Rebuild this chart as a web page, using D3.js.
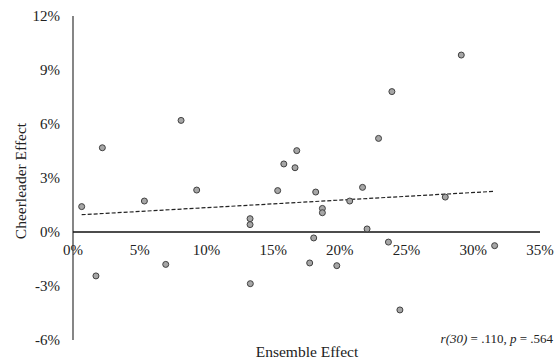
<!DOCTYPE html>
<html>
<head>
<meta charset="utf-8">
<script src="https://cdn.jsdelivr.net/npm/d3@7"></script>
<style>
  body { margin: 0; background: #fff; }
  svg { font-family: "Liberation Serif", "Times New Roman", serif; }
</style>
</head>
<body>
<div class="chart"></div>
<script>
// ensemble effect (%) and cheerleader effect (%)
const ensemble = [0.65, 1.72, 2.2, 5.35, 6.95, 8.1, 9.27, 13.27, 13.27, 13.29,
    15.34, 15.8, 16.64, 16.77, 17.74, 18.04, 18.19, 18.69, 18.69, 19.77,
    20.74, 21.7, 22.04, 22.9, 23.64, 23.9, 24.5, 27.9, 29.1, 31.6];
const cheerleader = [1.41, -2.44, 4.68, 1.72, -1.8, 6.2, 2.33, 0.74, 0.41, -2.87,
    2.3, 3.78, 3.57, 4.52, -1.72, -0.33, 2.22, 1.31, 1.07, -1.87,
    1.72, 2.48, 0.17, 5.2, -0.56, 7.8, -4.33, 1.94, 9.83, -0.76];

// linear trend line ends
const trendX = [0.65, 31.6];
const trendY = [0.96, 2.26];

const xTicks = [0, 5, 10, 15, 20, 25, 30, 35];
const yTicks = [-6, -3, 0, 3, 6, 9, 12];

const w = 556;
const h = 360;

const svg = d3
    .select(".chart")
    .append("svg")
    .attr("width", w)
    .attr("height", h);

const xScale = d3.scaleLinear().domain([0, 35]).range([73, 540]);
const yScale = d3.scaleLinear().domain([-6, 12]).range([340, 16]);

// axis lines
svg.append("line")
    .attr("x1", xScale(0))
    .attr("x2", xScale(0))
    .attr("y1", yScale(12))
    .attr("y2", yScale(-6))
    .attr("stroke", "#444")
    .attr("stroke-width", 1.3);

svg.append("line")
    .attr("x1", xScale(0))
    .attr("x2", xScale(35))
    .attr("y1", yScale(0))
    .attr("y2", yScale(0))
    .attr("stroke", "#111")
    .attr("stroke-width", 1.3);

// tick labels
svg.append("g")
    .selectAll("text")
    .data(yTicks)
    .join("text")
    .attr("x", 60)
    .attr("y", (d) => yScale(d) + 5)
    .attr("text-anchor", "end")
    .attr("font-size", 15)
    .attr("fill", "#222")
    .text((d) => d + "%");

svg.append("g")
    .selectAll("text")
    .data(xTicks)
    .join("text")
    .attr("x", (d) => xScale(d))
    .attr("y", 255)
    .attr("text-anchor", "middle")
    .attr("font-size", 15)
    .attr("fill", "#222")
    .text((d) => d + "%");

// trend line
svg.append("line")
    .attr("x1", xScale(trendX[0]))
    .attr("x2", xScale(trendX[1]))
    .attr("y1", yScale(trendY[0]))
    .attr("y2", yScale(trendY[1]))
    .attr("stroke", "#222")
    .attr("stroke-width", 1.2)
    .attr("stroke-dasharray", "4,2");

// points
svg.append("g")
    .selectAll("circle")
    .data(ensemble)
    .join("circle")
    .attr("cx", (d) => xScale(d))
    .attr("cy", (d, i) => yScale(cheerleader[i]))
    .attr("r", 3)
    .attr("fill", "#a6a6a6")
    .attr("stroke", "#404040")
    .attr("stroke-width", 1);

// titles
svg.append("text")
    .attr("x", 307)
    .attr("y", 357)
    .attr("text-anchor", "middle")
    .attr("font-size", 15.5)
    .attr("fill", "#222")
    .text("Ensemble Effect");

svg.append("text")
    .attr("transform", "translate(26,181) rotate(-90)")
    .attr("text-anchor", "middle")
    .attr("font-size", 15.5)
    .attr("fill", "#222")
    .text("Cheerleader Effect");

const stat = svg.append("text")
    .attr("x", 553)
    .attr("y", 343)
    .attr("text-anchor", "end")
    .attr("font-size", 13)
    .attr("fill", "#222");
stat.append("tspan").attr("font-style", "italic").text("r(30)");
stat.append("tspan").text(" = .110, ");
stat.append("tspan").attr("font-style", "italic").text("p");
stat.append("tspan").text(" = .564");
</script>
</body>
</html>
